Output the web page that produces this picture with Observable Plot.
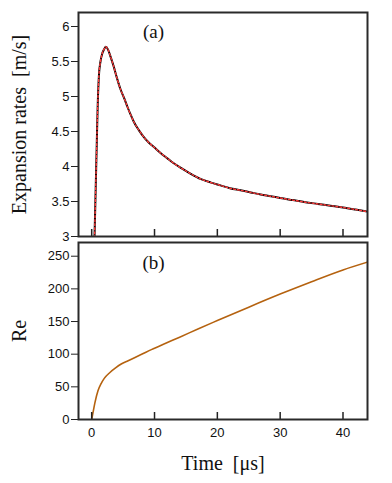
<!DOCTYPE html>
<html><head><meta charset="utf-8">
<script src="https://cdn.jsdelivr.net/npm/d3@7"></script>
<script src="https://cdn.jsdelivr.net/npm/@observablehq/plot@0.6"></script>
<style>
body{margin:0;background:#fff}
#chart{position:relative;width:392px;height:483px;background:#fff}
#chart svg{display:block;background:transparent}
#chart svg.p-top{position:relative;z-index:2}
#chart svg.p-bottom{position:relative;z-index:1;margin-top:-6px}
</style>
</head><body><div id="chart"></div>
<script>
// ---- data ----
const timeA = [0.3,0.45,0.64,0.8,0.95,1.15,1.4,1.7,2.0,2.25,2.6,3.0,3.5,4.0,4.6,5.2,5.7,6.2,6.7,7.5,8.3,9.0,10,11,12,13,14.2,15.5,17.4,19,20.5,22,23.7,25.3,26.9,28.5,30,32,34,36,38,40,42,43.9];
const rateBlack = [2.7,3.0,3.7,4.3,4.85,5.3,5.5,5.62,5.68,5.71,5.67,5.57,5.43,5.27,5.10,4.97,4.85,4.74,4.64,4.52,4.42,4.35,4.27,4.19,4.12,4.05,3.98,3.91,3.82,3.77,3.73,3.69,3.66,3.63,3.60,3.575,3.55,3.52,3.49,3.465,3.44,3.415,3.385,3.355];
const rateRed   = [2.7,3.0,3.7,4.3,4.85,5.3,5.5,5.62,5.68,5.71,5.67,5.57,5.43,5.27,5.10,4.97,4.85,4.74,4.64,4.52,4.42,4.35,4.27,4.19,4.12,4.05,3.98,3.91,3.82,3.77,3.73,3.69,3.66,3.63,3.60,3.575,3.55,3.52,3.49,3.465,3.44,3.415,3.385,3.355];
const timeB = [0,0.2,0.5,1.0,1.5,2.0,2.9,3.8,4.7,5.8,6.9,8.2,9.5,11.6,14,17,20,25,30,35,40,43.9];
const reValues = [0,10,25,44,55,63,72,79,85,90,95,101,107,116,126,139,151.5,172,192,211,229,241];

const xTicks = [0,10,20,30,40];
const yTicksA = [3,3.5,4,4.5,5,5.5,6];
const yTicksB = [0,50,100,150,200,250];
const xDomain = [-2.1, 43.9];
const yDomainA = [3, 6.2];
const yDomainB = [0, 271];
const labelA = "Expansion rates  [m/s]";
const labelB = "Re";
const labelX = "Time  [\u03bcs]";
const panelTags = ["(a)", "(b)"];

const sans = "Liberation Sans, Arial, sans-serif";
const serif = "Liberation Serif, Times New Roman, serif";

const rowsA = timeA.map((t, i) => ({t, black: rateBlack[i], red: rateRed[i]}));
const rowsB = timeB.map((t, i) => ({t, re: reValues[i]}));

const common = {width: 392, marginLeft: 78, marginRight: 25, style: {background: "transparent", color: "#111"}};

const plotTop = Plot.plot({
  ...common,
  className: "p-top",
  height: 246, marginTop: 12, marginBottom: 10,
  x: {domain: xDomain},
  y: {domain: yDomainA},
  marks: [
    Plot.line(rowsA, {x: "t", y: "black", stroke: "#000", strokeWidth: 2, curve: "monotone-x", clip: true}),
    Plot.line(rowsA, {x: "t", y: "red", stroke: "#ff3b3b", strokeWidth: 1.4, strokeDasharray: "2,2", curve: "monotone-x", clip: true}),
    Plot.axisY({ticks: yTicksA, tickSize: 7, tickPadding: 2, tickFormat: d => String(d), label: null, fontSize: 13, fontFamily: sans, stroke: "#222", fill: "#111"}),
    Plot.axisX({ticks: xTicks, tickSize: -7, tickFormat: () => "", label: null, stroke: "#222", strokeWidth: 1.5}),
    Plot.frame({stroke: "#2a2a2a", strokeWidth: 2}),
    Plot.text([labelA], {text: d => d, frameAnchor: "left", rotate: -90, dx: -52.5, lineAnchor: "bottom", textAnchor: "middle", fontSize: 20, fontFamily: serif, fill: "#111"}),
    Plot.text([panelTags[0]], {text: d => d, frameAnchor: "top-left", dx: 75, dy: 25, lineAnchor: "bottom", textAnchor: "middle", fontSize: 19, fontFamily: serif, fill: "#111"})
  ]
});

const plotBottom = Plot.plot({
  ...common,
  className: "p-bottom",
  height: 243, marginTop: 2, marginBottom: 64,
  x: {domain: xDomain},
  y: {domain: yDomainB},
  marks: [
    Plot.line(rowsB, {x: "t", y: "re", stroke: "#b5620f", strokeWidth: 1.6, curve: "monotone-x", clip: true}),
    Plot.axisY({ticks: yTicksB, tickSize: 7, tickPadding: 2, tickFormat: d => String(d), label: null, fontSize: 13, fontFamily: sans, stroke: "#222", fill: "#111"}),
    Plot.axisX({ticks: xTicks, tickSize: -7, tickFormat: () => "", label: null, stroke: "#222", strokeWidth: 1.5}),
    Plot.axisX({ticks: xTicks, tickSize: 0, tickPadding: 8, tickFormat: d => String(d), label: null, fontSize: 13, fontFamily: sans, fill: "#111"}),
    Plot.frame({stroke: "#2a2a2a", strokeWidth: 2}),
    Plot.text([labelB], {text: d => d, frameAnchor: "left", rotate: -90, dx: -52.5, lineAnchor: "bottom", textAnchor: "middle", fontSize: 20, fontFamily: serif, fill: "#111"}),
    Plot.text([labelX], {text: d => d, frameAnchor: "bottom", dy: 50, lineAnchor: "bottom", textAnchor: "middle", fontSize: 20, fontFamily: serif, fill: "#111"}),
    Plot.text([panelTags[1]], {text: d => d, frameAnchor: "top-left", dx: 75, dy: 26, lineAnchor: "bottom", textAnchor: "middle", fontSize: 19, fontFamily: serif, fill: "#111"})
  ]
});

document.getElementById("chart").append(plotTop, plotBottom);
</script>
</body></html>
